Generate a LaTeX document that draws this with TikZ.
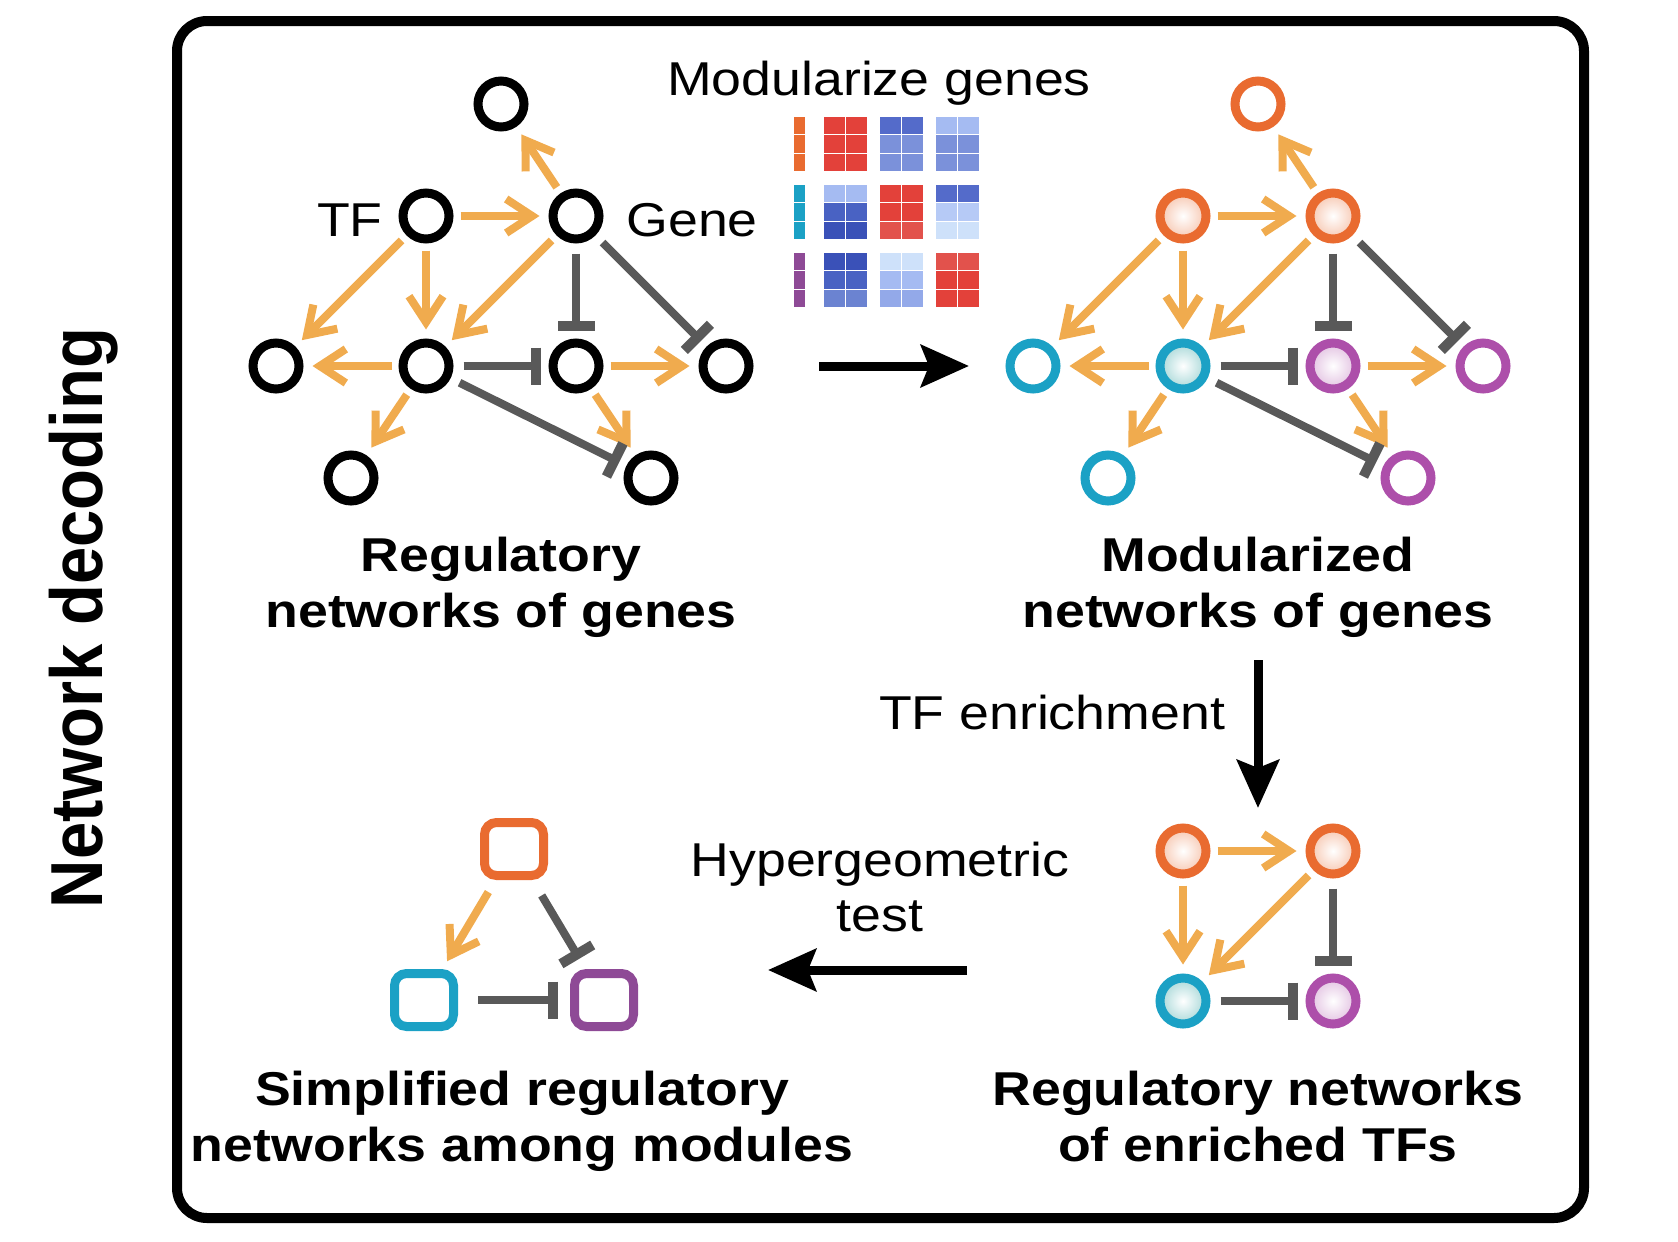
\documentclass[tikz,border=0pt]{standalone}
\usepackage{fontspec}
\setmainfont{Liberation Sans}[FakeStretch=1.13]
\newfontfamily\sidefont{Liberation Sans}
\usetikzlibrary{arrows.meta,positioning}
\definecolor{ModOrange}{HTML}{E96B30}
\definecolor{ModCyan}{HTML}{1BA1C5}
\definecolor{ModPurple}{HTML}{AD4FAA}
\definecolor{ModPlum}{HTML}{8E4A96}
\definecolor{ModTeal}{HTML}{A8D8D8}
\definecolor{ActOrange}{HTML}{F0AB4E}
\definecolor{InhGray}{HTML}{595959}
\definecolor{HR}{HTML}{E3413A}
\definecolor{HRl}{HTML}{E2524C}
\definecolor{HB1}{HTML}{3A51B8}
\definecolor{HB2}{HTML}{4962C3}
\definecolor{HB3}{HTML}{546BCA}
\definecolor{HB4}{HTML}{6B83D1}
\definecolor{HB5}{HTML}{7B91DA}
\definecolor{HB6}{HTML}{93A9E9}
\definecolor{HB7}{HTML}{A5BBF2}
\definecolor{HB8}{HTML}{B6CAF6}
\definecolor{HB9}{HTML}{CEE1FA}
\tikzset{
  frame/.style={draw=black, line width=5pt, rounded corners=15pt},
  gene/.style={circle, draw=black, line width=4.5pt, minimum size=23pt,
               inner sep=0pt, fill=white},
  geneO/.style={gene, draw=ModOrange},
  geneC/.style={gene, draw=ModCyan},
  geneP/.style={gene, draw=ModPurple},
  tfO/.style={gene, draw=ModOrange, inner color=white, outer color=ModOrange!38},
  tfC/.style={gene, draw=ModCyan, inner color=white, outer color=ModTeal},
  tfP/.style={gene, draw=ModPurple, inner color=white, outer color=ModPurple!35},
  module/.style={rectangle, rounded corners=6pt, line width=4.5pt, fill=white,
                 minimum width=29.5pt, minimum height=26.5pt, inner sep=0pt},
  act/.style={draw=ActOrange, line width=4pt,
              -{Straight Barb[sharp,length=13pt,width=17pt]},
              shorten <=3.5pt, shorten >=4.5pt},
  inh/.style={draw=InhGray, line width=4pt, -{Bar[width=18.5pt,line width=5pt]},
              shorten <=5pt, shorten >=4pt},
  flow/.style={draw=black, line width=4.5pt,
               -{Stealth[length=24pt,width=21pt,inset=4pt]}},
  lbl/.style={font=\bfseries\fontsize{23.75}{28}\selectfont, align=center,
              anchor=base, inner sep=0pt},
  txt/.style={font=\fontsize{23.75}{27.5}\selectfont, align=center,
              anchor=base, inner sep=0pt},
  cell/.style={draw=white, line width=0.6pt},
}

\begin{document}
\begin{tikzpicture}[x=0.5pt, y=-0.5pt]
  \useasboundingbox (0,0) rectangle (1678,1242);

  % \netedges{prefix}
  \newcommand{\netedges}[1]{%
    \draw[act] (#1gene) -- (#1u);
    \draw[act] (#1tf) -- (#1gene);
    \draw[act] (#1tf) -- (#1a);
    \draw[act] (#1tf) -- (#1b);
    \draw[act] (#1gene) -- (#1b);
    \draw[inh] (#1gene) -- (#1c);
    \draw[inh] (#1gene) -- (#1d);
    \draw[act] (#1b) -- (#1a);
    \draw[inh] (#1b) -- (#1c);
    \draw[act] (#1c) -- (#1d);
    \draw[act] (#1b) -- (#1e);
    \draw[act] (#1c) -- (#1f);
    \draw[inh] (#1b) -- (#1f);
  }

  \draw[frame] (177,21) rectangle (1584,1218);
  \node[rotate=90, anchor=base, inner sep=0pt,
        font=\sidefont\bfseries\fontsize{33.5}{40}\selectfont] (side) at (102,618)
        {\scalebox{1}[1.1]{Network decoding}};

  % regulatory networks of genes
  \node[gene] (Lu)    at (501,104) {};
  \node[gene] (Ltf)   at (426,216) {};
  \node[gene] (Lgene) at (576,216) {};
  \node[gene] (La)    at (276,366) {};
  \node[gene] (Lb)    at (426,366) {};
  \node[gene] (Lc)    at (576,366) {};
  \node[gene] (Ld)    at (726,366) {};
  \node[gene] (Le)    at (351,478) {};
  \node[gene] (Lf)    at (651,478) {};
  \netedges{L}
  \node[txt, anchor=base east] (tftxt) at (383,236) {TF};
  \node[txt, anchor=base west] (genetxt) at (626,236) {Gene};
  \node[lbl] (Llbl) at (501,627) {Regulatory\\networks of genes};

  % module heat map
  \node[txt] (modtxt) at (879,95) {Modularize genes};
  \foreach \g/\barc/\ca/\cb/\cc/\cd/\ce/\cf/\cg/\ch/\ci in {%
      0/ModOrange/HR/HR/HR/HB3/HB5/HB5/HB7/HB5/HB5,
      1/ModCyan/HB7/HB2/HB1/HR/HR/HRl/HB3/HB8/HB9,
      2/ModPlum/HB1/HB2/HB4/HB9/HB7/HB6/HRl/HR/HR}{
    \foreach \r in {0,1,2}
      \filldraw[cell, fill=\barc] (793,116+68*\g+18.67*\r) rectangle ++(13,18.67);
    \foreach \k/\r/\c in {0/0/\ca,0/1/\cb,0/2/\cc,1/0/\cd,1/1/\ce,1/2/\cf,2/0/\cg,2/1/\ch,2/2/\ci}
      \foreach \col in {0,1}
        \filldraw[cell, fill=\c] (823+56*\k+22.5*\col,116+68*\g+18.67*\r)
          rectangle ++(22.5,18.67);
  }
  \coordinate (m1) at (819,366);
  \coordinate (m2) at (969,366);
  \draw[flow] (m1) -- (m2);

  % modularized networks of genes
  \node[geneO] (Ru)    at (1258,104) {};
  \node[tfO]   (Rtf)   at (1183,216) {};
  \node[tfO]   (Rgene) at (1333,216) {};
  \node[geneC] (Ra)    at (1033,366) {};
  \node[tfC]   (Rb)    at (1183,366) {};
  \node[tfP]   (Rc)    at (1333,366) {};
  \node[geneP] (Rd)    at (1483,366) {};
  \node[geneC] (Re)    at (1108,478) {};
  \node[geneP] (Rf)    at (1408,478) {};
  \netedges{R}
  \node[lbl] (Rlbl) at (1258,627) {Modularized\\networks of genes};

  \coordinate (t1) at (1258,660);
  \coordinate (t2) at (1258,808);
  \draw[flow] (t1) -- (t2);
  \node[txt] (enrtxt) at (1052,729) {TF enrichment};

  % regulatory networks of enriched TFs
  \node[tfO] (Etl) at (1183,851) {};
  \node[tfO] (Etr) at (1333,851) {};
  \node[tfC] (Ebl) at (1183,1001) {};
  \node[tfP] (Ebr) at (1333,1001) {};
  \draw[act] (Etl) -- (Etr);
  \draw[act] (Etl) -- (Ebl);
  \draw[act] (Etr) -- (Ebl);
  \draw[inh] (Etr) -- (Ebr);
  \draw[inh] (Ebl) -- (Ebr);
  \node[lbl] (Elbl) at (1258,1161) {Regulatory networks\\of enriched TFs};

  \coordinate (h1) at (967,970);
  \coordinate (h2) at (768,970);
  \draw[flow] (h1) -- (h2);
  \node[txt] (hyptxt) at (880,931) {Hypergeometric\\test};

  % simplified networks among modules
  \node[module, draw=ModOrange] (Mo) at (514,849) {};
  \node[module, draw=ModCyan]   (Mc) at (424,1000) {};
  \node[module, draw=ModPlum]   (Mp) at (604,1000) {};
  \draw[act, shorten <=7pt] (Mo) -- (Mc);
  \draw[inh, shorten <=9pt, shorten >=6pt] (Mo) -- (Mp);
  \draw[inh, shorten <=10pt, shorten >=6pt] (Mc) -- (Mp);
  \node[lbl] (Slbl) at (522,1161) {Simplified regulatory\\networks among modules};

\end{tikzpicture}
\end{document}
